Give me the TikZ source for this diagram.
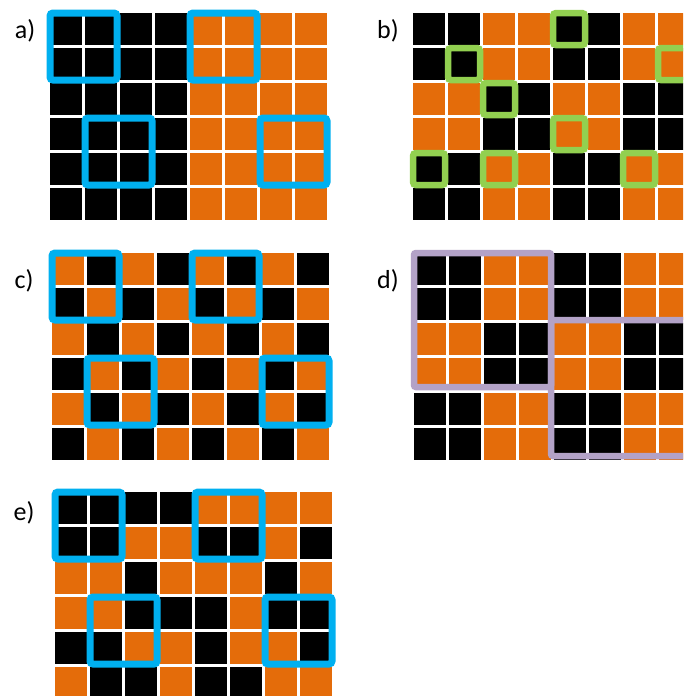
\documentclass[tikz,border=0pt]{standalone}
\usepackage{fontspec}
\setmainfont{Carlito}
\usepackage{tikz}
\definecolor{CellOrange}{RGB}{228, 108, 10}
\definecolor{BoxBlue}{RGB}{0, 176, 240}
\definecolor{BoxGreen}{RGB}{146, 208, 80}
\definecolor{BoxPurple}{RGB}{179, 162, 199}
\colorlet{cellK}{black}
\colorlet{cellO}{CellOrange}

\tikzset{
  panellabel/.style={font=\fontsize{26}{28}\selectfont, text=black, inner sep=0pt},
  bluebox/.style={draw=BoxBlue, line width=7pt, rounded corners=3pt},
  greenbox/.style={draw=BoxGreen, line width=6.5pt, rounded corners=3pt},
  purplebox/.style={draw=BoxPurple, line width=6.5pt, rounded corners=2pt}
}

% rows of K (black) / O (orange) cells, 35 units apart
\newcommand{\cellrows}[1]{%
  \foreach \cols [count=\r from 0] in {#1} {
    \foreach \cl [count=\k from 0] in \cols
      \fill[cell\cl] (35*\k, 35*\r) rectangle ++(32,32);
  }}

\begin{document}
\begin{tikzpicture}[x=1pt,y=-1pt]
  \fill[white] (0,0) rectangle (683,696);
  \clip (0,0) rectangle (683,696);

  % a)
  \node[panellabel] (labA) at (25,31) {a)};
  \begin{scope}[shift={(50,13)}]
    \cellrows{{K,K,K,K,O,O,O,O},{K,K,K,K,O,O,O,O},{K,K,K,K,O,O,O,O},
              {K,K,K,K,O,O,O,O},{K,K,K,K,O,O,O,O},{K,K,K,K,O,O,O,O}}
    \draw[bluebox] (0,0) rectangle (67,67);
    \draw[bluebox] (140,0) rectangle (207,67);
    \draw[bluebox] (35,105) rectangle (102,172);
    \draw[bluebox] (210,105) rectangle (277,172);
  \end{scope}

  % b)
  \node[panellabel] (labB) at (388,31) {b)};
  \begin{scope}[shift={(413,13)}]
    \cellrows{{K,K,O,O,K,K,O,O},{K,K,O,O,K,K,O,O},{O,O,K,K,O,O,K,K},
              {O,O,K,K,O,O,K,K},{K,K,O,O,K,K,O,O},{K,K,O,O,K,K,O,O}}
    \foreach \cl/\r in {4/0,1/1,7/1,2/2,4/3,0/4,2/4,6/4}
      \draw[greenbox] (35*\cl,35*\r) rectangle ++(32,32);
  \end{scope}

  % c)
  \node[panellabel] (labC) at (24,281) {c)};
  \begin{scope}[shift={(52,253)}]
    \cellrows{{O,K,O,K,O,K,O,K},{K,O,K,O,K,O,K,O},{O,K,O,K,O,K,O,K},
              {K,O,K,O,K,O,K,O},{O,K,O,K,O,K,O,K},{K,O,K,O,K,O,K,O}}
    \draw[bluebox] (0,0) rectangle (67,67);
    \draw[bluebox] (140,0) rectangle (207,67);
    \draw[bluebox] (35,105) rectangle (102,172);
    \draw[bluebox] (210,105) rectangle (277,172);
  \end{scope}

  % d)
  \node[panellabel] (labD) at (388,281) {d)};
  \begin{scope}[shift={(414,253)}]
    \cellrows{{K,K,O,O,K,K,O,O},{K,K,O,O,K,K,O,O},{O,O,K,K,O,O,K,K},
              {O,O,K,K,O,O,K,K},{K,K,O,O,K,K,O,O},{K,K,O,O,K,K,O,O}}
    \draw[purplebox] (0,0) rectangle (137,134);
    \draw[purplebox] (137,67) rectangle (290,203);
  \end{scope}

  % e)
  \node[panellabel] (labE) at (24,513) {e)};
  \begin{scope}[shift={(55,492)}]
    \cellrows{{K,K,K,K,O,O,O,O},{K,K,O,O,K,K,O,K},{O,O,K,O,O,O,K,O},
              {O,O,K,K,K,O,K,K},{K,K,O,O,K,O,O,K},{O,K,K,O,K,K,O,O}}
    \draw[bluebox] (0,0) rectangle (67,67);
    \draw[bluebox] (140,0) rectangle (207,67);
    \draw[bluebox] (35,105) rectangle (102,172);
    \draw[bluebox] (210,105) rectangle (277,172);
  \end{scope}
\end{tikzpicture}
\end{document}
